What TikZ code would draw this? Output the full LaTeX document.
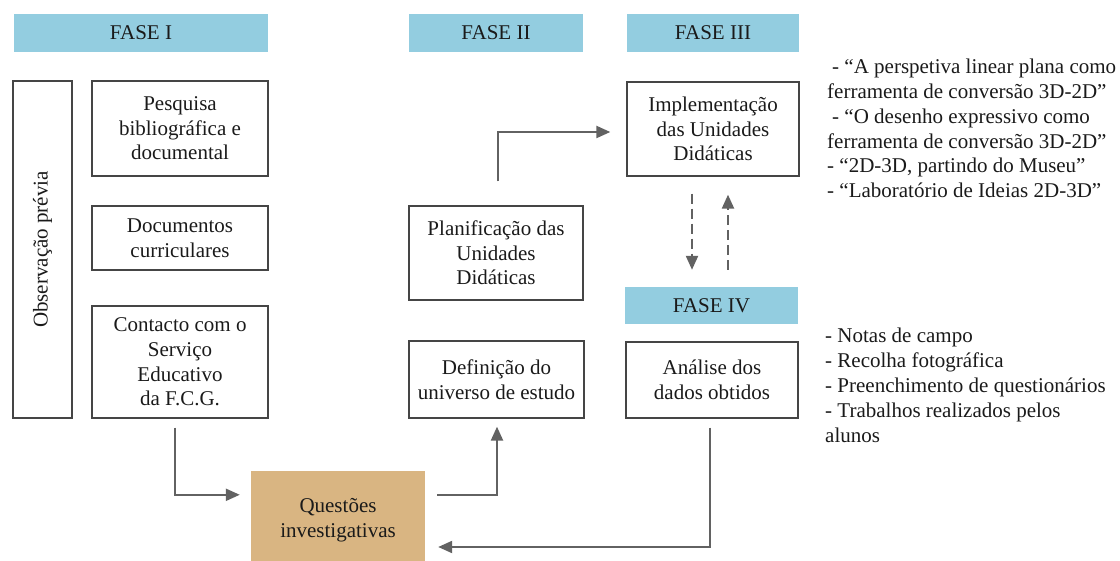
\documentclass[tikz,border=0pt]{standalone}
\usepackage{fontspec}
\setmainfont{Liberation Serif}
\usetikzlibrary{arrows.meta,calc}
\definecolor{phase}{HTML}{93CDE0}
\definecolor{sand}{HTML}{D9B582}
\definecolor{conn}{HTML}{626262}
\definecolor{ink}{HTML}{1A1A1A}
\definecolor{frame}{HTML}{454545}
\begin{document}
\begin{tikzpicture}[x=1pt,y=-1pt,
  txt/.style={font=\fontsize{21}{24.6}\selectfont, text=ink},
  phasebar/.style={txt, fill=phase, inner sep=0pt, minimum height=38pt},
  stepbox/.style={txt, draw=frame, line width=1.3pt, align=center, inner sep=0pt},
  qbox/.style={txt, fill=sand, align=center, inner sep=0pt},
  listline/.style={txt, anchor=base west, inner sep=0pt},
  arr/.style={draw=conn, line width=2.2pt, -{Triangle[length=14pt,width=12pt]}},
  dasharr/.style={arr, dash pattern=on 10pt off 5pt},
]
\useasboundingbox (0,0) rectangle (1120,561);

% phase headers
\node[phasebar, minimum width=254pt] (f1) at (141,33) {FASE I};
\node[phasebar, minimum width=174pt] (f2) at (496,33) {FASE II};
\node[phasebar, minimum width=172pt] (f3) at (713,33) {FASE III};
\node[phasebar, minimum width=173pt, minimum height=37pt] (f4) at (711.5,305.5) {FASE IV};

% phase I
\node[stepbox, rotate=90, minimum width=337pt, minimum height=59pt] (obs) at (42.5,249.5) {Observação prévia};
\node[stepbox, minimum width=176pt, minimum height=95pt] (pesq) at (180,128.5) {Pesquisa\\bibliográfica e\\documental};
\node[stepbox, minimum width=176pt, minimum height=64pt] (docs) at (180,238) {Documentos\\curriculares};
\node[stepbox, minimum width=176pt, minimum height=112pt] (cont) at (180,362) {Contacto com o\\Serviço\\Educativo\\da F.C.G.};

% phase II
\node[stepbox, minimum width=174pt, minimum height=94pt] (plan) at (496,253) {Planificação das\\Unidades\\Didáticas};
\node[stepbox, minimum width=175pt, minimum height=77pt] (defi) at (496.5,379.5) {Definição do\\universo de estudo};

% phase III and IV
\node[stepbox, minimum width=172pt, minimum height=94pt] (impl) at (713,129) {Implementação\\das Unidades\\Didáticas};
\node[stepbox, minimum width=172pt, minimum height=76pt] (anal) at (712,380) {Análise dos\\dados obtidos};

% research questions
\node[qbox, minimum width=174pt, minimum height=98pt] (quest) at (338,520) {Questões\\investigativas};

% connectors
\draw[arr] ($(cont.south)+(-5,9)$) |- ($(quest.north west)+(-11,24)$);
\draw[arr] ($(quest.north east)+(12,24)$) -| ($(defi.south)+(0.5,8)$);
\draw[arr] ($(plan.north)+(2,-24)$) |- ($(impl.west)+(-16,3)$);
\draw[arr] ($(anal.south)+(-2,9)$) |- ($(quest.east)+(13,27)$);
\draw[dasharr] ($(impl.south)+(-21,17)$) -- ($(f4.north)+(-19.5,-17)$);
\draw[dasharr] ($(f4.north)+(16.5,-17)$) -- ($(impl.south)+(15,18)$);

% units carried out
\node[listline] (u1) at (832,74) {- “A perspetiva linear plana como};
\node[listline] (u2) at (827,98.7) {ferramenta de conversão 3D-2D”};
\node[listline] (u3) at (832,123.4) {- “O desenho expressivo como};
\node[listline] (u4) at (827,148.1) {ferramenta de conversão 3D-2D”};
\node[listline] (u5) at (827,172.8) {- “2D-3D, partindo do Museu”};
\node[listline] (u6) at (827,197.5) {- “Laboratório de Ideias 2D-3D”};

% data collection
\node[listline] (d1) at (825,343) {- Notas de campo};
\node[listline] (d2) at (825,367.8) {- Recolha fotográfica};
\node[listline] (d3) at (825,392.6) {- Preenchimento de questionários};
\node[listline] (d4) at (825,417.4) {- Trabalhos realizados pelos};
\node[listline] (d5) at (825,442.2) {alunos};
\end{tikzpicture}
\end{document}
